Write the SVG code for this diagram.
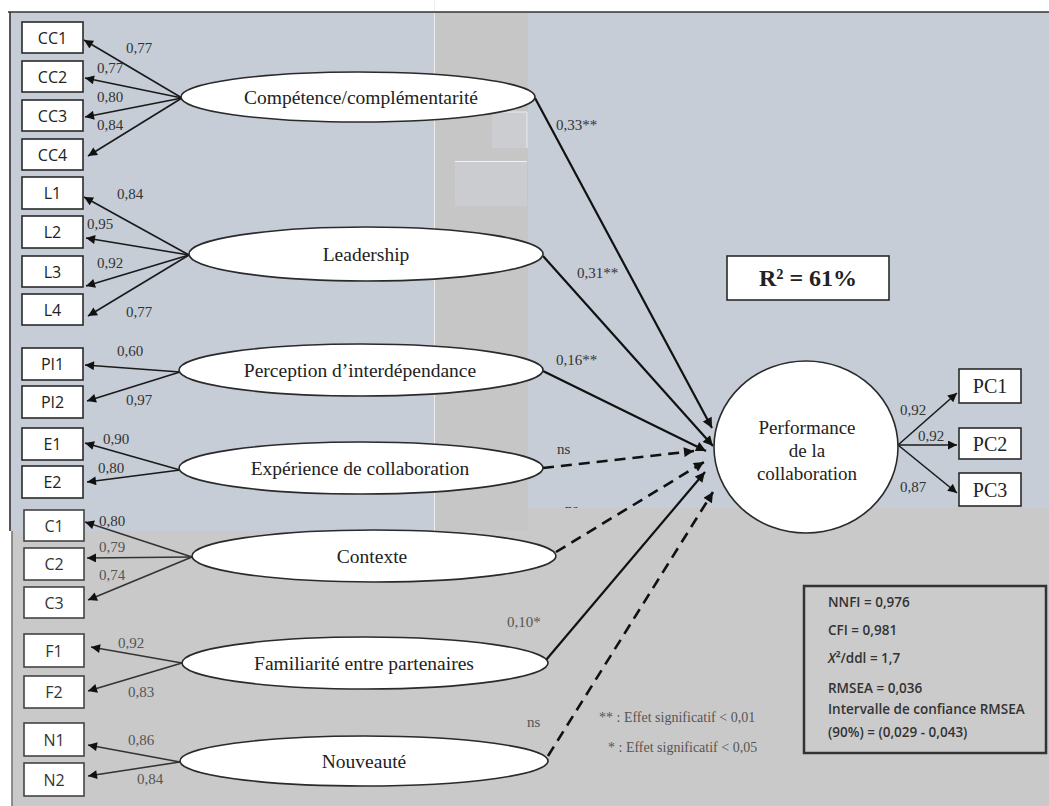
<svg xmlns="http://www.w3.org/2000/svg" width="1049" height="806" viewBox="0 0 1049 806">
  <defs>
    <marker id="ah" viewBox="0 0 10 10" refX="10" refY="5" markerWidth="11" markerHeight="9" markerUnits="userSpaceOnUse" orient="auto">
      <path d="M0,0 L10,5 L0,10 z" fill="#111"/>
    </marker>
    <marker id="ahs" viewBox="0 0 10 10" refX="10" refY="5" markerWidth="12" markerHeight="10" markerUnits="userSpaceOnUse" orient="auto">
      <path d="M0,0 L10,5 L0,10 z" fill="#111"/>
    </marker>
    <clipPath id="upper">
      <rect x="0" y="0" width="1049" height="508"/>
    </clipPath>
    <style>
      .box { fill: #fff; stroke: #2a2a2a; stroke-width: 1.6; }
      .box.low { stroke: #444; }
      .ind { font-family: "Open Sans", "Liberation Sans", sans-serif; font-size: 16px; fill: #222; text-anchor: middle; }
      .ind.low { fill: #333; }
      .lat { fill: #fff; stroke: #2a2a2a; stroke-width: 1.6; }
      .latt { font-family: "Liberation Serif", serif; font-size: 19.5px; fill: #222; text-anchor: middle; }
      .load { stroke: #1a1a1a; stroke-width: 1.6; fill: none; marker-end: url(#ah); }
      .load.low { stroke: #333; }
      .path { stroke: #111; stroke-width: 2.2; fill: none; marker-end: url(#ahs); }
      .dash { stroke-dasharray: 11 7; stroke-width: 2.6; }
      .num { font-family: "Liberation Serif", serif; font-size: 15px; fill: #333; }
      .num.low { fill: #555; }
      .pc { font-family: "Liberation Serif", serif; font-size: 20px; fill: #222; text-anchor: middle; }
      .perf { font-family: "Liberation Serif", serif; font-size: 19px; fill: #222; text-anchor: middle; }
      .fit { font-family: "Open Sans", "Liberation Sans", sans-serif; font-size: 13.5px; font-weight: 600; fill: #333; }
      .leg { font-family: "Liberation Serif", serif; font-size: 14px; fill: #555; }
    </style>
  </defs>

  <!-- background panels -->
  <rect x="0" y="0" width="1049" height="806" fill="#ffffff"/>
  <rect x="10" y="12" width="1039" height="519" fill="#c6cdd7"/>
  <rect x="434" y="12" width="94" height="519" fill="#c6c6c6"/>
  <line x1="434.5" y1="0" x2="434.5" y2="531" stroke="#eeeeee" stroke-width="1"/>
  <rect x="492" y="112" width="35" height="36" fill="#cbcdd0"/>
  <path d="M492,112 H527 V148" fill="none" stroke="#ececec" stroke-width="1"/>
  <rect x="455" y="161" width="72" height="45" fill="#cacccf"/>
  <line x1="455" y1="161.5" x2="527" y2="161.5" stroke="#f0f0f0" stroke-width="1.2"/>
  <path d="M12,531 H528 V508 H1049 V806 H12 Z" fill="#c9c9c9"/>
  <!-- frame -->
  <line x1="8" y1="12" x2="1049" y2="12" stroke="#333" stroke-width="1.6"/>
  <line x1="10" y1="12" x2="10" y2="531" stroke="#333" stroke-width="1.6"/>
  <line x1="12" y1="531" x2="12" y2="806" stroke="#777" stroke-width="1.6"/>

  <!-- connectors -->
  <g id="connectors">
    <!-- loadings -->
    <path class="load" d="M182,98 L84,40"/>
    <path class="load" d="M182,98 L85,78"/>
    <path class="load" d="M182,98 L85,117"/>
    <path class="load" d="M182,98 L88,156"/>
    <path class="load" d="M189,255 L84,197"/>
    <path class="load" d="M189,255 L86,238"/>
    <path class="load" d="M189,255 L86,286"/>
    <path class="load" d="M189,255 L88,316"/>
    <path class="load" d="M180,372 L85,365"/>
    <path class="load" d="M180,372 L87,401"/>
    <path class="load" d="M180,470 L85,443"/>
    <path class="load" d="M180,470 L87,482"/>
    <path class="load low" d="M192,557 L85,522"/>
    <path class="load low" d="M192,557 L87,558"/>
    <path class="load low" d="M192,557 L88,600"/>
    <path class="load low" d="M182,663 L91,647"/>
    <path class="load low" d="M182,663 L88,691"/>
    <path class="load low" d="M180,762 L88,745"/>
    <path class="load low" d="M180,762 L88,776"/>
    <path class="load" d="M898,445 L957,393"/>
    <path class="load" d="M898,445 L957,445"/>
    <path class="load" d="M898,445 L957,493"/>
    <!-- structural paths -->
    <path class="path" d="M535,98 L712,428"/>
    <path class="path" d="M543,256 L713,446"/>
    <path class="path" d="M543,371 L706,451"/>
    <path class="path dash" d="M543,468 L694,451"/>
    <path class="path dash" d="M556,552 L704,462"/>
    <path class="path" d="M546,660 L705,472"/>
    <path class="path dash" d="M548,756 L713,492"/>

    <!-- loading values -->
    <text class="num" x="126" y="53">0,77</text>
    <text class="num" x="97" y="73">0,77</text>
    <text class="num" x="97" y="102">0,80</text>
    <text class="num" x="97" y="130">0,84</text>
    <text class="num" x="117" y="199">0,84</text>
    <text class="num" x="87" y="229">0,95</text>
    <text class="num" x="97" y="268">0,92</text>
    <text class="num" x="126" y="317">0,77</text>
    <text class="num" x="117" y="356">0,60</text>
    <text class="num" x="126" y="405">0,97</text>
    <text class="num" x="103" y="444">0,90</text>
    <text class="num" x="98" y="473">0,80</text>
    <text class="num" x="99" y="526">0,80</text>
    <text class="num low" x="99" y="552">0,79</text>
    <text class="num low" x="99" y="580">0,74</text>
    <text class="num low" x="118" y="648">0,92</text>
    <text class="num low" x="128" y="697">0,83</text>
    <text class="num low" x="128" y="745">0,86</text>
    <text class="num low" x="137" y="784">0,84</text>
    <text class="num" x="900" y="415">0,92</text>
    <text class="num" x="918" y="441">0,92</text>
    <text class="num" x="900" y="492">0,87</text>
    <!-- path coefficients -->
    <text class="num" x="556" y="130">0,33**</text>
    <text class="num" x="577" y="278">0,31**</text>
    <text class="num" x="556" y="365">0,16**</text>
    <text class="num" x="557" y="454">ns</text>
    <text class="num" x="565" y="514" clip-path="url(#upper)">ns</text>
    <text class="num low" x="507" y="627">0,10*</text>
    <text class="num low" x="527" y="727">ns</text>
  </g>

  <!-- indicator boxes -->
  <g id="CC1"><rect class="box" x="22" y="22" width="61" height="31"/><text class="ind" x="52.5" y="43.5">CC1</text></g>
  <g id="CC2"><rect class="box" x="22" y="61" width="61" height="31"/><text class="ind" x="52.5" y="82.5">CC2</text></g>
  <g id="CC3"><rect class="box" x="22" y="100" width="61" height="31"/><text class="ind" x="52.5" y="121.5">CC3</text></g>
  <g id="CC4"><rect class="box" x="22" y="139" width="61" height="31"/><text class="ind" x="52.5" y="160.5">CC4</text></g>
  <g id="L1"><rect class="box" x="22" y="177" width="61" height="32"/><text class="ind" x="52.5" y="198.5">L1</text></g>
  <g id="L2"><rect class="box" x="22" y="216" width="61" height="32"/><text class="ind" x="52.5" y="237.5">L2</text></g>
  <g id="L3"><rect class="box" x="22" y="256" width="61" height="31"/><text class="ind" x="52.5" y="277.5">L3</text></g>
  <g id="L4"><rect class="box" x="22" y="294" width="61" height="31"/><text class="ind" x="52.5" y="315.5">L4</text></g>
  <g id="PI1"><rect class="box" x="22" y="348" width="61" height="32"/><text class="ind" x="52.5" y="369.5">PI1</text></g>
  <g id="PI2"><rect class="box" x="22" y="386" width="61" height="32"/><text class="ind" x="52.5" y="407.5">PI2</text></g>
  <g id="E1"><rect class="box" x="22" y="428" width="61" height="32"/><text class="ind" x="52.5" y="449.5">E1</text></g>
  <g id="E2"><rect class="box" x="22" y="466" width="61" height="32"/><text class="ind" x="52.5" y="487.5">E2</text></g>
  <g id="C1"><rect class="box low" x="24" y="510" width="60" height="31"/><text class="ind low" x="54" y="531.5">C1</text></g>
  <g id="C2"><rect class="box low" x="24" y="548" width="60" height="32"/><text class="ind low" x="54" y="569.5">C2</text></g>
  <g id="C3"><rect class="box low" x="24" y="587" width="60" height="31"/><text class="ind low" x="54" y="608.5">C3</text></g>
  <g id="F1"><rect class="box low" x="24" y="634" width="60" height="33"/><text class="ind low" x="54" y="656.5">F1</text></g>
  <g id="F2"><rect class="box low" x="24" y="676" width="60" height="32"/><text class="ind low" x="54" y="697.5">F2</text></g>
  <g id="N1"><rect class="box low" x="24" y="723" width="60" height="33"/><text class="ind low" x="54" y="745.5">N1</text></g>
  <g id="N2"><rect class="box low" x="24" y="763" width="60" height="33"/><text class="ind low" x="54" y="785.5">N2</text></g>

  <!-- latent factors -->
  <g id="competence"><ellipse class="lat" cx="358" cy="97" rx="177" ry="25"/><text class="latt" x="361" y="103.5">Compétence/complémentarité</text></g>
  <g id="leadership"><ellipse class="lat" cx="366" cy="254" rx="177" ry="27"/><text class="latt" x="366" y="260.5">Leadership</text></g>
  <g id="perception"><ellipse class="lat" cx="361" cy="370" rx="182" ry="26"/><text class="latt" x="360" y="376.5">Perception d’interdépendance</text></g>
  <g id="experience"><ellipse class="lat" cx="361" cy="468" rx="182" ry="26"/><text class="latt" x="360" y="474.5">Expérience de collaboration</text></g>
  <g id="contexte"><ellipse class="lat" cx="374" cy="556" rx="182" ry="26"/><text class="latt" x="372" y="562.5">Contexte</text></g>
  <g id="familiarite"><ellipse class="lat" cx="365" cy="663" rx="183" ry="26"/><text class="latt" x="364" y="669.5">Familiarité entre partenaires</text></g>
  <g id="nouveaute"><ellipse class="lat" cx="364" cy="761" rx="184" ry="25"/><text class="latt" x="364" y="767.5">Nouveauté</text></g>

  <!-- outcome -->
  <g id="performance">
    <ellipse class="lat" cx="806" cy="447" rx="92" ry="86"/>
    <text class="perf" x="807" y="434">Performance</text>
    <text class="perf" x="807" y="457">de la</text>
    <text class="perf" x="807" y="480">collaboration</text>
  </g>
  <g id="PC1"><rect class="box" x="959" y="369" width="62" height="34"/><text class="pc" x="990" y="393">PC1</text></g>
  <g id="PC2"><rect class="box" x="959" y="428" width="62" height="31"/><text class="pc" x="990" y="451">PC2</text></g>
  <g id="PC3"><rect class="box" x="959" y="473" width="62" height="33"/><text class="pc" x="990" y="497">PC3</text></g>

  <!-- explained variance -->
  <g id="r2">
    <rect x="727" y="256" width="162" height="44" fill="#fff" stroke="#2a2a2a" stroke-width="1.6"/>
    <text x="808" y="286" font-family="Liberation Serif, serif" font-size="24" font-weight="bold" fill="#222" text-anchor="middle">R² = 61%</text>
  </g>

  <!-- significance legend -->
  <g id="legend">
    <text class="leg" x="599" y="722">** : Effet significatif &lt; 0,01</text>
    <text class="leg" x="608" y="752">* : Effet significatif &lt; 0,05</text>
  </g>

  <!-- fit indices -->
  <g id="fit">
    <rect x="804" y="586" width="242" height="167" fill="#cbcbcb" stroke="#333" stroke-width="2.5"/>
    <text class="fit" x="828" y="607">NNFI = 0,976</text>
    <text class="fit" x="828" y="635">CFI = 0,981</text>
    <text class="fit" x="828" y="663"><tspan font-style="italic">X</tspan>²/ddl = 1,7</text>
    <text class="fit" x="828" y="693">RMSEA = 0,036</text>
    <text class="fit" x="828" y="714">Intervalle de confiance  RMSEA</text>
    <text class="fit" x="828" y="737">(90%) = (0,029 - 0,043)</text>
  </g>
</svg>
